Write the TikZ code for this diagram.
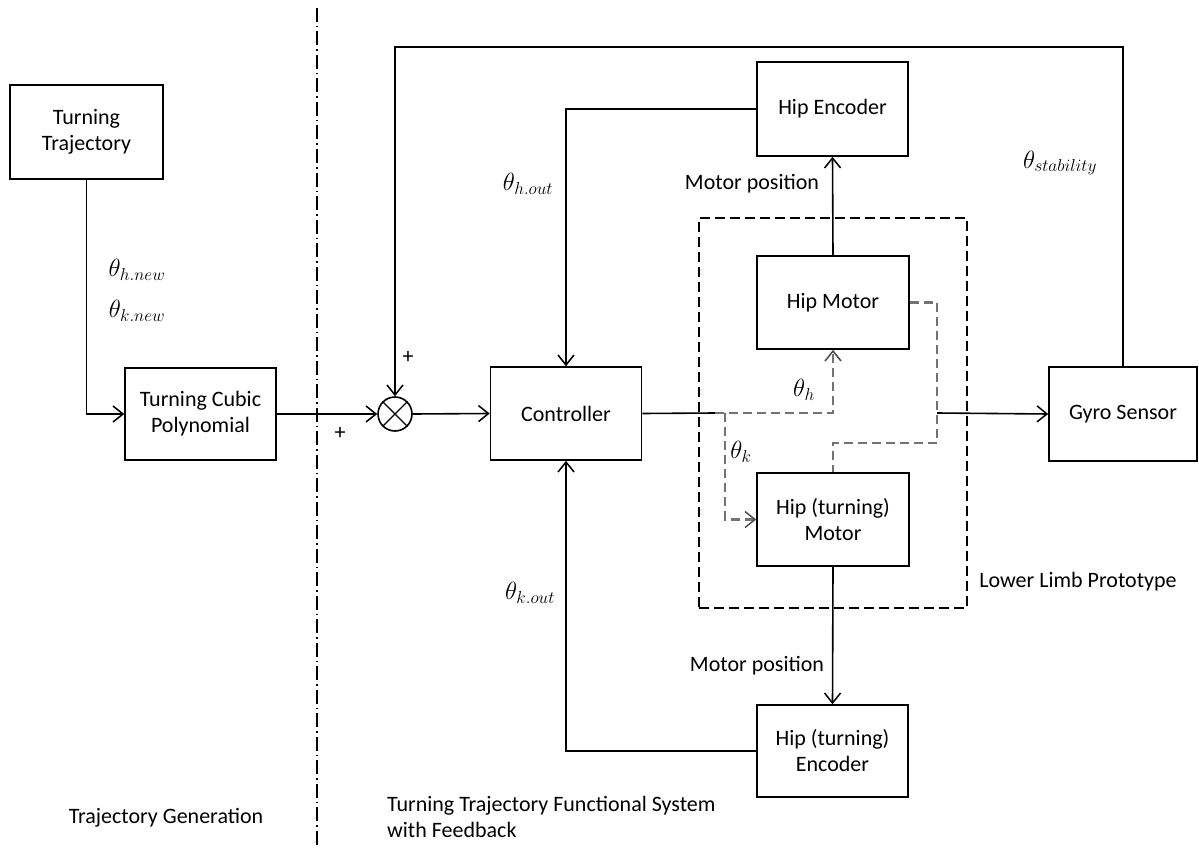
\documentclass[tikz,border=0pt]{standalone}
\usepackage{fontspec}
\setmainfont{Carlito}
\usetikzlibrary{arrows.meta}
\begin{document}
\begin{tikzpicture}[x=1pt,y=-1pt,
  every node/.style={font=\fontsize{22}{26}\selectfont},
  box/.style={draw, line width=1.6pt, align=center, inner sep=0pt},
  conn/.style={line width=1.6pt},
  tip/.style={-{Straight Barb[length=10pt,width=16pt,line width=1.5pt]}},
  arr/.style={conn, tip},
  gdash/.style={line width=2.2pt, draw=black!55, dash pattern=on 9pt off 5pt},
  garr/.style={gdash, -{Straight Barb[length=10pt,width=16pt,line width=1.5pt,color=black!70]}},
  lbl/.style={inner sep=1pt},
  mlbl/.style={inner sep=1pt, font=\fontsize{26}{30}\selectfont}]
\useasboundingbox (0,0) rectangle (1199,848);
% boxes
\node[box, minimum width=153, minimum height=94] (traj) at (86.5,132) {Turning\\Trajectory};
\node[box, minimum width=151, minimum height=92] (poly) at (200.5,414) {Turning Cubic\\Polynomial};
\node[draw, circle, line width=1.6pt, minimum size=34, inner sep=0pt] (sum) at (395,414) {};
\draw[line width=1.2pt] (sum.north east) -- (sum.south west) (sum.north west) -- (sum.south east);
\node[box, minimum width=151, minimum height=93] (ctrl) at (566,413.5) {Controller};
\node[box, minimum width=151, minimum height=94] (henc) at (832.5,109) {Hip Encoder};
\node[box, minimum width=152, minimum height=93] (hmot) at (833,302.5) {Hip Motor};
\node[box, minimum width=152, minimum height=93] (tmot) at (833,519.5) {Hip (turning)\\Motor};
\node[box, minimum width=151, minimum height=92] (tenc) at (832.5,751) {Hip (turning)\\Encoder};
\node[box, minimum width=148, minimum height=94] (gyro) at (1123,414) {Gyro Sensor};
\node[draw, line width=1.5pt, dash pattern=on 10pt off 5pt, minimum width=268, minimum height=390, inner sep=0pt] (llp) at (833,413) {};
% separator
\coordinate (sepT) at (317,8);
\coordinate (sepB) at (317,848);
\draw[line width=1.4pt, dash pattern=on 14pt off 4pt on 1.5pt off 4pt] (sepT) -- (sepB);
% connectors
\draw[arr] (traj.south) |- (poly.west);
\draw[arr] (poly.east) -- (sum.west);
\draw[arr] (sum.east) -- (ctrl.west);
\coordinate (topc) at (395,47);
\draw[arr] (gyro.north) |- (topc) -- (sum.north);
\draw[arr] (henc.west) -| (ctrl.north);
\draw[arr] (tenc.west) -| (ctrl.south);
\draw[arr] (hmot.north) -- (henc.south);
\draw[arr] (tmot.south) -- (tenc.north);
\coordinate (j1) at (715,413);
\coordinate (j2) at (725,413);
\coordinate (j3) at (937,413);
\coordinate (j4) at (937,443);
\draw[conn] (ctrl.east) -- (j1);
\draw[garr] (j1) -| (hmot.south);
\draw[garr] (j2) |- (tmot.west);
\draw[gdash] (hmot.east) -| (j4) -| (tmot.north);
\draw[arr] (j3) -- (gyro.west);
% labels
\node[mlbl] (lhn) at (137,270) {$\theta_{h.new}$};
\node[mlbl] (lkn) at (137,311) {$\theta_{k.new}$};
\node[mlbl] (lho) at (528,184) {$\theta_{h.out}$};
\node[mlbl] (lko) at (530,593) {$\theta_{k.out}$};
\node[mlbl] (lh) at (804,390) {$\theta_{h}$};
\node[mlbl] (lk) at (741,452) {$\theta_{k}$};
\node[mlbl] (lst) at (1060,163) {$\theta_{stability}$};
\node[lbl] (p1) at (408,357) {+};
\node[lbl] (p2) at (340,433) {+};
\node[lbl] (mp1) at (752,184) {Motor position};
\node[lbl] (mp2) at (757,666) {Motor position};
\node[lbl] (llpl) at (1078,582) {Lower Limb Prototype};
\node[lbl] (tg) at (166,818) {Trajectory Generation};
\node[lbl, anchor=west, align=left] (tt) at (386,817) {Turning Trajectory Functional System\\with Feedback};
\end{tikzpicture}
\end{document}
